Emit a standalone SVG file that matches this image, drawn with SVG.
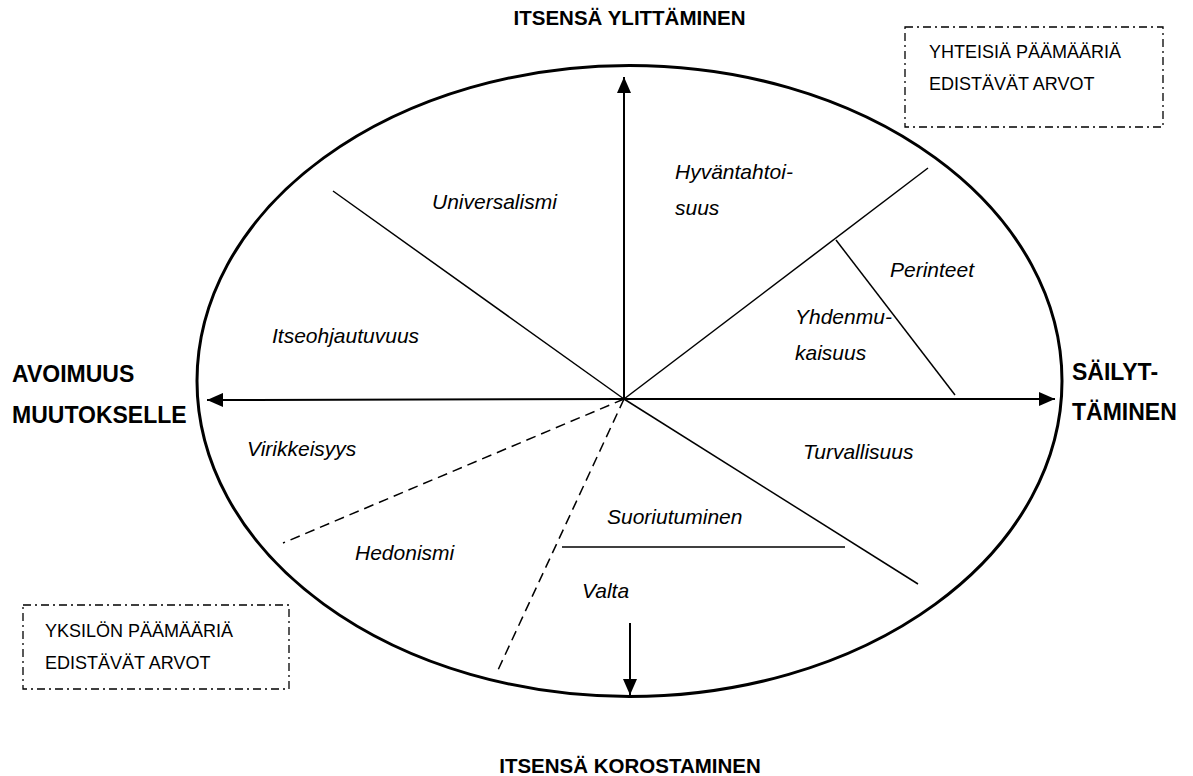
<svg xmlns="http://www.w3.org/2000/svg" width="1193" height="776" viewBox="0 0 1193 776">
<defs>
<marker id="ahb" viewBox="0 0 10 10" refX="10" refY="5" markerWidth="16" markerHeight="14" markerUnits="userSpaceOnUse" orient="auto" preserveAspectRatio="none">
<path d="M0,0 L10,5 L0,10 z" fill="#000"/>
</marker>
</defs>
<style>
.ln{stroke:#000;stroke-width:1.5;fill:none}
.ax{stroke:#000;stroke-width:2;fill:none}
.dash{stroke:#000;stroke-width:1.5;fill:none;stroke-dasharray:10,6}
.box{stroke:#000;stroke-width:1.3;fill:none;stroke-dasharray:8,4,2,4}
.lbl{font-family:"Liberation Sans",Arial,sans-serif;font-style:italic;font-size:21px;fill:#000}
.ttl{font-family:"Liberation Sans",Arial,sans-serif;font-weight:bold;font-size:20.5px;fill:#000}
.side{font-family:"Liberation Sans",Arial,sans-serif;font-weight:bold;font-size:23px;fill:#000}
.bx{font-family:"Liberation Sans",Arial,sans-serif;font-size:18px;fill:#000}
</style>
<rect width="1193" height="776" fill="#fff"/>
<g id="ellipse"><ellipse cx="629.5" cy="381" rx="432.5" ry="315.5" stroke="#000" stroke-width="3" fill="none"/></g>
<g id="connectors">
<line class="ax" x1="624" y1="399" x2="624" y2="77" marker-end="url(#ahb)"/>
<line class="ax" x1="624" y1="399" x2="207" y2="400" marker-end="url(#ahb)"/>
<line class="ax" x1="624" y1="399" x2="1055" y2="399" marker-end="url(#ahb)"/>
<line class="ax" x1="630" y1="623" x2="630" y2="695" marker-end="url(#ahb)"/>
<line class="ln" x1="333" y1="191" x2="624" y2="399"/>
<line class="ln" x1="624" y1="399" x2="928" y2="168"/>
<line class="ln" x1="836" y1="240" x2="955" y2="395"/>
<line class="ln" x1="624" y1="399" x2="918" y2="584"/>
<line class="ln" x1="562" y1="547" x2="845" y2="547"/>
<line class="dash" x1="624" y1="399" x2="283" y2="543"/>
<line class="dash" x1="624" y1="399" x2="498" y2="670"/>
</g>
<g id="title-top"><text class="ttl" x="629.5" y="25" text-anchor="middle">ITSENSÄ YLITTÄMINEN</text></g>
<g id="title-bottom"><text class="ttl" x="630" y="773" text-anchor="middle">ITSENSÄ KOROSTAMINEN</text></g>
<g id="title-left"><text class="side" x="12" y="382">AVOIMUUS</text><text class="side" x="12" y="423">MUUTOKSELLE</text></g>
<g id="title-right"><text class="side" x="1072" y="380">SÄILYT-</text><text class="side" x="1072" y="420">TÄMINEN</text></g>
<g id="box-top"><rect class="box" x="905" y="27" width="258" height="100"/><text class="bx" x="929" y="58">YHTEISIÄ PÄÄMÄÄRIÄ</text><text class="bx" x="929" y="90">EDISTÄVÄT ARVOT</text></g>
<g id="box-bottom"><rect class="box" x="23" y="605" width="266" height="84"/><text class="bx" x="45" y="637">YKSILÖN PÄÄMÄÄRIÄ</text><text class="bx" x="45" y="669">EDISTÄVÄT ARVOT</text></g>
<g id="universalismi"><text class="lbl" x="432" y="209">Universalismi</text></g>
<g id="hyvantahtoisuus"><text class="lbl" x="675" y="179">Hyväntahtoi-</text><text class="lbl" x="675" y="215">suus</text></g>
<g id="perinteet"><text class="lbl" x="890" y="277">Perinteet</text></g>
<g id="yhdenmukaisuus"><text class="lbl" x="795" y="324">Yhdenmu-</text><text class="lbl" x="795" y="360">kaisuus</text></g>
<g id="itseohjautuvuus"><text class="lbl" x="272" y="343">Itseohjautuvuus</text></g>
<g id="virikkeisyys"><text class="lbl" x="247" y="456">Virikkeisyys</text></g>
<g id="turvallisuus"><text class="lbl" x="803" y="459">Turvallisuus</text></g>
<g id="suoriutuminen"><text class="lbl" x="607" y="524">Suoriutuminen</text></g>
<g id="hedonismi"><text class="lbl" x="355" y="560">Hedonismi</text></g>
<g id="valta"><text class="lbl" x="582" y="598">Valta</text></g>
</svg>
